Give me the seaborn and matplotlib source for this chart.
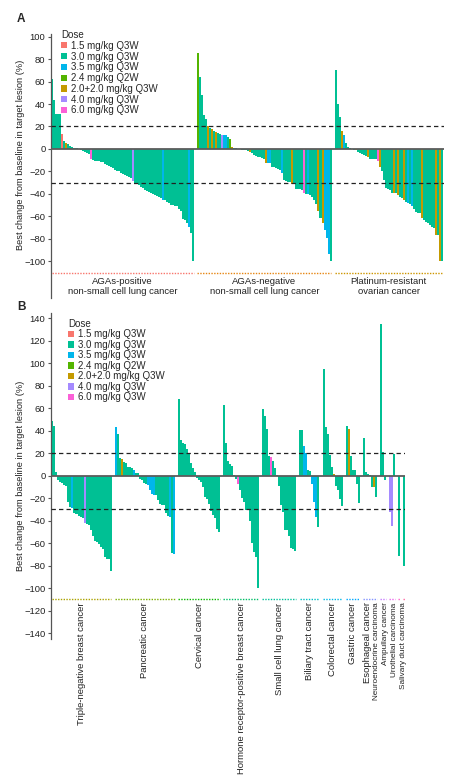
import numpy as np
import pandas as pd
import matplotlib
matplotlib.use("Agg")
import matplotlib.pyplot as plt
from matplotlib.patches import Patch
import seaborn as sns

# dose levels in legend order, one-letter codes used in the per-bar dose strings
dose_labels = ["1.5 mg/kg Q3W", "3.0 mg/kg Q3W", "3.5 mg/kg Q3W", "2.4 mg/kg Q2W",
               "2.0+2.0 mg/kg Q3W", "4.0 mg/kg Q3W", "6.0 mg/kg Q3W"]
dose_codes = ["r", "t", "b", "g", "o", "p", "m"]
dose_colors = ["#F8766D", "#00C094", "#00B6EB", "#53B400", "#C49A00", "#A58AFF", "#FB61D7"]

# ---------------- panel A ----------------
agas_pos_vals = [62, 44, 31, 31, 31, 13, 7.5, 5.5, 4, 2.5, 1.8, 1, 0.6, 0.3, -1, -1.5, -2.5, -3.5,
                 -4.5, -8.5, -10, -10.5, -10.7, -11, -11.5, -12, -13, -14, -15, -16.3, -17.2, -18.5,
                 -19.5, -20, -21, -22, -23, -24, -25, -25.5, -28.5, -30, -31, -32.5, -34, -35, -36.5,
                 -37.5, -38.5, -39.5, -40.5, -41, -42, -42.5, -43.5, -45, -45.5, -47, -48, -49.5, -50,
                 -50.5, -51, -53, -55, -62, -63, -66, -69, -75, -100]
agas_pos_dose = ("t" * 5 + "r" + "t" + "o" + "t" * 11 + "m" + "t" * 20 + "p" + "t" * 14 + "b"
                 + "t" * 12 + "b" + "t" * 2)

agas_neg_vals = [85.6, 64, 48, 30, 27, 20.4, 19, 18, 16, 15, 14, 13, 12.4, 12.4, 12.4, 11, 8.6, 2, 1,
                 0.5, 0.2, -0.3, -0.5, -0.8, -1, -1.5, -2.4, -4, -5.3, -6.2, -6.8, -7.4, -8.3, -9.2,
                 -12.7, -12.7, -12.7, -15.7, -16.3, -17.2, -18, -18.7, -21.6, -27.6, -28.4, -29,
                 -29.6, -31.4, -31.4, -35.5, -35.5, -36, -36.4, -38.8, -40.3, -40.3, -41, -43, -45.3,
                 -49, -54.8, -61.6, -66, -72, -79.4, -93.3, -100]
agas_neg_dose = ("g" + "t" * 4 + "o" + "t" + "o" + "t" + "o" + "t" * 2 + "p" + "b" * 2 + "t" + "g"
                 + "o" + "t" * 2 + "t" * 6 + "o" + "t" * 7 + "o" + "b" * 2 + "t" * 5 + "b" + "t" * 4
                 + "o" + "t" * 5 + "m" + "t" + "b" + "t" * 4 + "o" + "t" + "o" + "b" * 3 + "t")

ovarian_vals = [70, 40, 28.7, 16, 12.4, 5, 2, 0.6, 0.2, -1, -1.2, -2.4, -3.3, -4.4, -5.6, -6, -7.4,
                -9.2, -9.2, -9.2, -9.2, -10.7, -15.7, -20, -27.6, -35, -36, -36.4, -38.8, -39.4,
                -39.4, -41, -42.4, -44, -45, -47, -47.7, -49, -50.7, -53.6, -55.7, -56.6, -57, -61.6,
                -63, -64.6, -65.5, -67.6, -69, -70.5, -76.4, -76.4, -100, -100]
ovarian_dose = ("t" * 3 + "o" + "b" + "t" * 5 + "o" + "t" * 5 + "o" + "t" * 4 + "m" + "o" + "t" * 6
                + "o" + "t" + "o" + "t" * 2 + "o" + "t" + "b" + "t" + "b" + "t" * 4 + "o" + "t" * 6
                + "o" + "t" + "o" + "t")

panel_a = [
    ("AGAs-positive\nnon-small cell lung cancer", agas_pos_vals, agas_pos_dose),
    ("AGAs-negative\nnon-small cell lung cancer", agas_neg_vals, agas_neg_dose),
    ("Platinum-resistant\novarian cancer", ovarian_vals, ovarian_dose),
]

# ---------------- panel B ----------------
tnbc_vals = [48.6, 44, 3.3, -3.9, -5.3, -6.8, -8.3, -8.9, -23, -28, -29, -33.5, -34.4, -36, -37,
             -38, -42, -43, -44, -48, -54, -58, -59, -61, -63, -65, -72, -74, -74, -84.5]
tnbc_dose = "t" * 10 + "b" + "t" * 5 + "p" + "t" * 13
panc_vals = [43.6, 37, 16, 15, 12, 11, 8, 7.4, 6.5, 5, 2.7, 2.7, -3, -3.9, -6.8, -7.7, -8.3, -12.8,
             -16.3, -17, -17, -21.6, -25, -26, -26, -33.5, -36, -37, -68.5, -70]
panc_dose = "b" + "t" * 2 + "o" + "t" * 5 + "b" + "t" * 6 + "b" * 4 + "t" * 7 + "b" + "t" + "b"
cerv_vals = [68, 31.7, 29, 28, 23.7, 20, 11, 6.5, 3, -1.8, -3.9, -5.3, -9.8, -18.7, -20.8, -25, -31,
             -35, -38, -47, -50]
cerv_dose = "t" * 21
hrpos_vals = [63, 28.8, 13, 10.4, 8.6, 0.3, -2.7, -7.4, -12.8, -20, -23, -30.5, -30.5, -40, -59.6,
              -67.6, -72, -100]
hrpos_dose = "t" * 7 + "m" + "t" * 10
sclc_vals = [59.3, 53, 41.5, 17.5, 17, 13, 6.5, 0.3, -9, -26, -32, -48, -48, -53.7, -64.6, -65.5,
             -66.7]
sclc_dose = "t" * 4 + "m" + "t" * 12
biliary_vals = [40.6, 40.6, 26.4, 20, 5, 4, -7.7, -23, -36.5, -46]
biliary_dose = "ttbbttbbbt"
crc_vals = [95, 43.6, 37, 18.4, 8, 1.8, -9, -12.8, -20.8, -26.7]
crc_dose = "tttttotttt"
gastric_vals = [44, 41.5, 17.5, 5, 5, -7.7, -24]
gastric_dose = "tottttt"
esoph_vals = [33.8, 3.6, 1.5, 0.5, -9.8, -9.8, -19.3]
esoph_dose = "tttttot"
neuro_vals = [135, 21, -3.5]
neuro_dose = "ttt"
ampullary_vals = [-32, -44.5, 19.6]
ampullary_dose = "ppt"
uro_vals = [-71]
uro_dose = "t"
salivary_vals = [-80]
salivary_dose = "t"

panel_b = [
    ("Triple-negative breast cancer", tnbc_vals, tnbc_dose),
    ("Pancreatic cancer", panc_vals, panc_dose),
    ("Cervical cancer", cerv_vals, cerv_dose),
    ("Hormone receptor-positive breast cancer", hrpos_vals, hrpos_dose),
    ("Small cell lung cancer", sclc_vals, sclc_dose),
    ("Biliary tract cancer", biliary_vals, biliary_dose),
    ("Colorectal cancer", crc_vals, crc_dose),
    ("Gastric cancer", gastric_vals, gastric_dose),
    ("Esophageal cancer", esoph_vals, esoph_dose),
    ("Neuroendocrine carcinoma", neuro_vals, neuro_dose),
    ("Ampullary cancer", ampullary_vals, ampullary_dose),
    ("Urothelial carcinoma", uro_vals, uro_dose),
    ("Salivary duct carcinoma", salivary_vals, salivary_dose),
]

code_to_label = dict(zip(dose_codes, dose_labels))
palette = dict(zip(dose_labels, dose_colors))


def hue_pal(n, l=65, c=100):
    # ggplot-style hcl hue palette
    out = []
    Xn, Yn, Zn = 95.047, 100.0, 108.883
    un = 4 * Xn / (Xn + 15 * Yn + 3 * Zn)
    vn = 9 * Yn / (Xn + 15 * Yn + 3 * Zn)
    for h in np.linspace(15, 375, n + 1)[:-1]:
        u, v = c * np.cos(np.radians(h)), c * np.sin(np.radians(h))
        Y = Yn * ((l + 16) / 116) ** 3
        up, vp = u / (13 * l) + un, v / (13 * l) + vn
        X = Y * 9 * up / (4 * vp)
        Z = Y * (12 - 3 * up - 20 * vp) / (4 * vp)
        X, Y, Z = X / 100, Y / 100, Z / 100
        rgb = np.array([3.2404542 * X - 1.5371385 * Y - 0.4985314 * Z,
                        -0.9692660 * X + 1.8760108 * Y + 0.0415560 * Z,
                        0.0556434 * X - 0.2040259 * Y + 1.0572252 * Z])
        rgb = np.where(rgb <= 0.0031308, 12.92 * rgb, 1.055 * np.abs(rgb) ** (1 / 2.4) - 0.055)
        out.append(tuple(np.clip(rgb, 0, 1)))
    return out


group_colors = hue_pal(len(panel_a) + len(panel_b))


def build(groups, gap=1.5):
    rows, spans = [], []
    pos = 0.0
    for name, vals, codes in groups:
        codes = (codes + "t" * len(vals))[:len(vals)]
        start = pos
        for v, cd in zip(vals, codes):
            rows.append((pos, v, code_to_label[cd]))
            pos += 1
        spans.append((name, start, pos - 1))
        pos += gap
    return pd.DataFrame(rows, columns=["pos", "change", "dose"]), spans


sns.set_style("ticks")
plt.rcParams["font.family"] = ["Liberation Sans", "DejaVu Sans"]

W, H = 449, 784
fig = plt.figure(figsize=(W / 100, H / 100), dpi=100)

df_a, spans_a = build(panel_a)
df_b, spans_b = build(panel_b)
xa = (-0.7, df_a["pos"].max() + 1.0)
xb = (-0.7, df_b["pos"].max() + 0.7)
px_per_unit = 393 / (xa[1] - xa[0])
wb = px_per_unit * (xb[1] - xb[0])

ax_a = fig.add_axes([51 / W, 1 - 298 / H, 393 / W, 264 / H])
ax_b = fig.add_axes([51 / W, 1 - 639 / H, wb / W, 326 / H])

ylabel = "Best change from baseline in target lesion (%)"

for ax, df, spans, cols, xl, yl, ticks, rotate in [
        (ax_a, df_a, spans_a, group_colors[:3], xa, (-132.6, 102.3), np.arange(-100, 101, 20), False),
        (ax_b, df_b, spans_b, group_colors[3:], xb, (-145.3, 144.8), np.arange(-140, 141, 20), True)]:
    sns.barplot(data=df, x="pos", y="change", hue="dose", hue_order=dose_labels, palette=palette,
                native_scale=True, dodge=False, width=1, errorbar=None, saturation=1,
                linewidth=0, legend=False, ax=ax)
    ax.axhline(0, color="#5c5c5c", lw=1.3, zorder=4)
    for yy in (20, -30):
        ax.axhline(yy, color="#222222", lw=0.9, ls=(0, (3.5, 2.5)), zorder=4)

    # label anchors: group centres, pushed apart where the rotated labels would collide
    mids = [(s + e) / 2 for _, s, e in spans]
    sizes = [6.8 if (e - s) > 4 else 5.9 for _, s, e in spans]
    if rotate:
        min_gap = 9.2 / px_per_unit
        for i in range(len(mids) - 2, -1, -1):
            mids[i] = min(mids[i], mids[i + 1] - min_gap)

    for (name, s, e), c, mid, fs in zip(spans, cols, mids, sizes):
        ax.plot([s - 0.4, e + 0.4], [-110, -110], ls=(0, (1, 1)), lw=1.0, color=c)
        if rotate:
            ax.text(mid, -112.8, name, rotation=90, ha="center", va="top", fontsize=fs,
                    color="#222222")
        else:
            ax.text(mid, -122, name, ha="center", va="center", fontsize=6.8,
                    linespacing=1.15, color="#222222")
    ax.set_xlim(*xl)
    ax.set_ylim(*yl)
    ax.set_yticks(ticks)
    ax.set_xticks([])
    ax.set_xlabel("")
    ax.set_ylabel(ylabel, fontsize=6.7, color="#222222")
    for sp in ("top", "right", "bottom"):
        ax.spines[sp].set_visible(False)
    ax.spines["left"].set_color("#555555")
    ax.spines["left"].set_linewidth(0.9)
    ax.tick_params(axis="y", labelsize=6.8, length=2.5, width=0.8, color="#555555",
                   pad=1.5, labelcolor="#222222")
    ax.set_facecolor("none")

ax_a.yaxis.set_label_coords((25 - 51) / 393, 0.542)
ax_b.yaxis.set_label_coords((25 - 51) / wb, 0.5)

handles = [Patch(facecolor=palette[d], edgecolor="none", label=d) for d in dose_labels]
for ax, anchor, spacing in [(ax_a, ((61 - 51) / 393, (298 - 30) / 264), 0.08),
                            (ax_b, ((68 - 51) / wb, (639 - 319) / 326), 0.05)]:
    leg = ax.legend(handles=handles, title="Dose", loc="upper left", bbox_to_anchor=anchor,
                    frameon=False, fontsize=7, title_fontsize=7, handlelength=0.6,
                    handleheight=0.6, handletextpad=0.4, labelspacing=spacing, borderpad=0,
                    borderaxespad=0, alignment="left")

fig.text(17 / W, 1 - 19 / H, "A", fontsize=8.5, fontweight="bold", va="center")
fig.text(17 / W, 1 - 307 / H, "B", fontsize=8.5, fontweight="bold", va="center")

fig.savefig("out.png", dpi=100)
